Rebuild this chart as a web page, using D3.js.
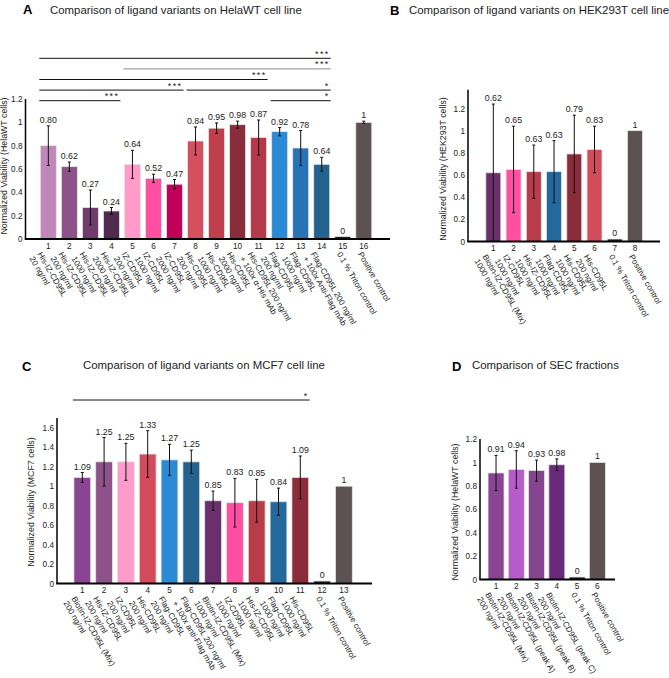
<!DOCTYPE html>
<html>
<head>
<meta charset="utf-8">
<script src="https://cdn.jsdelivr.net/npm/d3@7/dist/d3.min.js"></script>
<style>
  body { margin: 0; background: #fff; }
  svg { display: block; font-family: Arial, "Liberation Sans", sans-serif; }
</style>
</head>
<body>
<div id="chart"></div>
<script>
// ---- panel A: HelaWT ----
const namesA = [
  ['His-IZ-CD95L', '20 ng/ml'], ['His-IZ-CD95L', '200 ng/ml'], ['His-IZ-CD95L', '1000 ng/ml'],
  ['His-IZ-CD95L', '2000 ng/ml'], ['IZ-CD95L', '200 ng/ml'], ['IZ-CD95L', '1000 ng/ml'],
  ['IZ-CD95L', '2000 ng/ml'], ['His-CD95L', '200 ng/ml'], ['His-CD95L', '1000 ng/ml'],
  ['His-CD95L', '2000 ng/ml'], ['His-CD95L 200 ng/ml', '+ 100x α-His mAb'], ['Flag-CD95L', '200 ng/ml'],
  ['Flag-CD95L', '1000 ng/ml'], ['Flag-CD95L 200 ng/ml', '+ 100x Anti-Flag mAb'],
  ['0.1 % Triton control'], ['Positive control'],
];
const valuesA = [0.80, 0.62, 0.27, 0.24, 0.64, 0.52, 0.47, 0.84, 0.95, 0.98, 0.87, 0.92, 0.78, 0.64, 0, 1];
const errorsA = [0.17, 0.04, 0.15, 0.03, 0.12, 0.035, 0.04, 0.12, 0.045, 0.03, 0.15, 0.035, 0.15, 0.06, 0, 0.01];
const colorsA = ['#c088b8', '#8d5289', '#6e3b6c', '#4e2a4e', '#ff9bcb', '#ff4fa0', '#c1005a', '#d54f5f',
  '#bf3f4f', '#8b2c3b', '#b23a4a', '#2a8ad4', '#2873b4', '#23618f', '#222', '#5c5253'];
// significance brackets: bar numbers (1-based), tier 0 = top
const sigA = [
  {from: 1, to: 14, label: '***', tier: 0},
  {from: 5, to: 14, label: '***', tier: 1, grey: true},
  {from: 1, to: 11, label: '***', tier: 2},
  {from: 1, to: 7, label: '***', tier: 3},
  {from: 8, to: 14, label: '*', tier: 3},
  {from: 1, to: 4, label: '***', tier: 4},
  {from: 12, to: 14, label: '*', tier: 4},
];

// ---- panel B: HEK293T ----
const namesB = [
  ['Biotin-IZ-CD95L (Mix)', '1000 ng/ml'], ['IZ-CD95L', '1000 ng/ml'], ['His-IZ-CD95L', '1000 ng/ml'],
  ['Flag-CD95L', '1000 ng/ml'], ['His-CD95L', '1000 ng/ml'], ['His-CD95L', '200 ng/ml'],
  ['0.1 % Triton control'], ['Positive control'],
];
const valuesB = [0.62, 0.65, 0.63, 0.63, 0.79, 0.83, 0, 1];
const errorsB = [0.62, 0.39, 0.24, 0.28, 0.35, 0.21, 0, 0];
const colorsB = ['#6b2f6d', '#ff4fa0', '#b83c4a', '#24699c', '#8b2c3b', '#d24c5c', '#222', '#5c5253'];

// ---- panel C: MCF7 ----
const namesC = [
  ['Biotin-IZ-CD95L (Mix)', '200 ng/ml'], ['His-IZ-CD95L', '200 ng/ml'], ['IZ-CD95L', '200 ng/ml'],
  ['His-CD95L', '200 ng/ml'], ['Flag-CD95L', '200 ng/ml'], ['Flag-CD95L 200 ng/ml', '+ 100x anti-Flag mAb'],
  ['Biotin-IZ-CD95L (Mix)', '1000 ng/ml'], ['IZ-CD95L', '1000 ng/ml'], ['His-IZ-CD95L', '1000 ng/ml'],
  ['Flag-CD95L', '1000 ng/ml'], ['His-CD95L', '1000 ng/ml'], ['0.1 % Triton control'], ['Positive control'],
];
const valuesC = [1.09, 1.25, 1.25, 1.33, 1.27, 1.25, 0.85, 0.83, 0.85, 0.84, 1.09, 0, 1];
const errorsC = [0.05, 0.25, 0.19, 0.24, 0.16, 0.12, 0.1, 0.25, 0.22, 0.14, 0.22, 0, 0];
const colorsC = ['#8a4494', '#8d5289', '#ff9bcb', '#d24c5c', '#2a8ad4', '#23618f', '#6b2f6d',
  '#ff4fa0', '#b83c4a', '#24699c', '#8b2c3b', '#222', '#5c5253'];
const sigC = [{from: 1, to: 11, label: '*', tier: 0}];

// ---- panel D: SEC fractions ----
const namesD = [
  ['Biotin-IZ-CD95L (Mix)', '200 ng/ml'], ['Biotin-IZ-CD95L (peak A)', '200 ng/ml'],
  ['Biotin-IZ-CD95L (peak B)', '200 ng/ml'], ['Biotin-IZ-CD95L (peak C)', '200 ng/ml'],
  ['0.1 % Triton control'], ['Positive control'],
];
const valuesD = [0.91, 0.94, 0.93, 0.98, 0, 1];
const errorsD = [0.15, 0.16, 0.09, 0.05, 0, 0];
const colorsD = ['#8a4494', '#b65cc8', '#84448e', '#6a2a7a', '#222', '#5c5253'];

const ticksStd = [0, 0.2, 0.4, 0.6, 0.8, 1, 1.2];
const ticksC = [0, 0.2, 0.4, 0.6, 0.8, 1, 1.2, 1.4, 1.6];

const svg = d3.select('#chart').append('svg')
  .attr('width', 669)
  .attr('height', 678);

function drawPanel(p) {
  const g = svg.append('g');
  const n = p.values.length;

  const x = d3.scaleBand()
    .domain(d3.range(n))
    .range(p.xRange)
    .paddingInner(p.pad)
    .paddingOuter(p.pad / 2);

  const y = d3.scaleLinear()
    .domain([0, 1.2])
    .range(p.yRange);

  // panel letter + title
  g.append('text')
    .attr('x', p.letterPos[0]).attr('y', p.letterPos[1])
    .style('font-size', '13px').style('font-weight', 'bold')
    .text(p.letter);
  g.append('text')
    .attr('x', p.titlePos[0]).attr('y', p.titlePos[1])
    .style('font-size', '11.4px').attr('fill', '#222')
    .text(p.title);

  // bars
  g.selectAll('.bar')
    .data(p.values)
    .enter().append('rect')
      .attr('class', 'bar')
      .attr('x', (d, i) => x(i))
      .attr('width', x.bandwidth())
      .attr('y', d => Math.min(y(d), y(0) - 2.5))
      .attr('height', d => Math.max(y(0) - y(d), 2.5))
      .attr('fill', (d, i) => p.colors[i])
      .attr('stroke', '#e4e4e4')
      .attr('stroke-width', 0.8);

  // error bars
  const eb = g.selectAll('.err')
    .data(p.values.map((v, i) => ({v, e: p.errors[i], i})).filter(d => d.e > 0))
    .enter().append('g')
      .attr('class', 'err')
      .attr('stroke', '#111')
      .attr('stroke-width', 1);
  const cx = d => x(d.i) + x.bandwidth() / 2;
  eb.append('line')
    .attr('x1', cx).attr('x2', cx)
    .attr('y1', d => y(d.v + d.e)).attr('y2', d => y(Math.max(d.v - d.e, 0)));
  eb.append('line')
    .attr('x1', d => cx(d) - 1.5).attr('x2', d => cx(d) + 1.5)
    .attr('y1', d => y(d.v + d.e)).attr('y2', d => y(d.v + d.e));
  eb.append('line')
    .attr('x1', d => cx(d) - 1.5).attr('x2', d => cx(d) + 1.5)
    .attr('y1', d => y(Math.max(d.v - d.e, 0))).attr('y2', d => y(Math.max(d.v - d.e, 0)));

  // value labels
  g.selectAll('.val')
    .data(p.values)
    .enter().append('text')
      .attr('class', 'val')
      .attr('x', (d, i) => x(i) + x.bandwidth() / 2)
      .attr('y', (d, i) => Math.min(y(d + p.errors[i]), y(0) - 2.5) - 3)
      .attr('text-anchor', 'middle')
      .style('font-size', '8.8px').attr('fill', '#222')
      .text(d => (d === 0 || d === 1) ? String(d) : d.toFixed(2));

  // y axis
  const yAxis = d3.axisLeft(y)
    .tickValues(p.ticks)
    .tickSize(0)
    .tickPadding(3)
    .tickFormat(d3.format('~g'));
  const ya = g.append('g')
    .attr('transform', `translate(${p.axisX},0)`)
    .call(yAxis);
  ya.select('.domain').remove();
  ya.selectAll('text').style('font-size', '8.2px').attr('fill', '#222').style('font-family', 'inherit');
  g.append('line')
    .attr('x1', p.axisX).attr('x2', p.axisX)
    .attr('y1', y(0)).attr('y2', y(p.axisTop))
    .attr('stroke', '#000').attr('stroke-width', 1.5);

  g.append('text')
    .attr('transform', `translate(${p.yLabelX},${p.yLabelY}) rotate(-90)`)
    .attr('text-anchor', 'middle')
    .style('font-size', '8.8px').attr('fill', '#222')
    .text(p.yLabel);

  // x axis
  g.append('line')
    .attr('x1', p.axisX - 0.75).attr('x2', p.axisEnd)
    .attr('y1', y(0)).attr('y2', y(0))
    .attr('stroke', '#000').attr('stroke-width', 1.8);

  g.selectAll('.num')
    .data(p.values)
    .enter().append('text')
      .attr('class', 'num')
      .attr('x', (d, i) => x(i) + x.bandwidth() / 2)
      .attr('y', y(0) + 9.5)
      .attr('text-anchor', 'middle')
      .style('font-size', '8.2px').attr('fill', '#222')
      .text((d, i) => i + 1);

  const lbl = g.selectAll('.xl')
    .data(p.names)
    .enter().append('text')
      .attr('class', 'xl')
      .attr('transform', (d, i) =>
        `translate(${x(i) + x.bandwidth() / 2 - (d.length > 1 ? 6 : 1)},${y(0) + 12}) rotate(60)`)
      .style('font-size', '8.2px').attr('fill', '#222');
  lbl.selectAll('tspan')
    .data(d => d)
    .enter().append('tspan')
      .attr('x', 0)
      .attr('dy', (d, i) => i === 0 ? '0.72em' : '1.12em')
      .text(d => d);

  // significance brackets
  if (p.sig) {
    const sg = g.selectAll('.sig')
      .data(p.sig)
      .enter().append('g')
        .attr('class', 'sig');
    sg.append('line')
      .attr('x1', d => x(d.from - 1) - 1)
      .attr('x2', d => x(d.to - 1) + x.bandwidth() + 1)
      .attr('y1', d => p.sigTop + d.tier * p.sigStep)
      .attr('y2', d => p.sigTop + d.tier * p.sigStep)
      .attr('stroke', d => d.grey ? '#8a8a8a' : '#111')
      .attr('stroke-width', 1);
    sg.append('text')
      .attr('x', d => x(d.to - 1) + x.bandwidth())
      .attr('y', d => p.sigTop + d.tier * p.sigStep - 1.5)
      .attr('text-anchor', 'end')
      .style('font-size', '9px').style('letter-spacing', '1.4px').attr('fill', '#222')
      .text(d => d.label);
  }
}

drawPanel({
  letter: 'A', letterPos: [23, 14], title: 'Comparison of ligand variants on HelaWT cell line', titlePos: [50, 13.5],
  values: valuesA, errors: errorsA, colors: colorsA, names: namesA, sig: sigA,
  xRange: [37.8, 374.3], pad: 0.24, yRange: [239, 99], axisTop: 1.2, ticks: ticksStd,
  axisX: 25.5, axisEnd: 390, yLabel: 'Normalized Viability (HelaWT cells)', yLabelX: 7, yLabelY: 166,
  sigTop: 58.3, sigStep: 10.6,
});

drawPanel({
  letter: 'B', letterPos: [390, 14.5], title: 'Comparison of ligand variants on HEK293T cell line', titlePos: [409, 13.5],
  values: valuesB, errors: errorsB, colors: colorsB, names: namesB,
  xRange: [483.2, 645.1], pad: 0.26, yRange: [241.5, 108.5], axisTop: 1.37, ticks: ticksStd,
  axisX: 468, axisEnd: 660, yLabel: 'Normalized Viability (HEK293T cells)', yLabelX: 446, yLabelY: 169,
});

drawPanel({
  letter: 'C', letterPos: [22, 370.5], title: 'Comparison of ligand variants on MCF7 cell line', titlePos: [83, 368.5],
  values: valuesC, errors: errorsC, colors: colorsC, names: namesC, sig: sigC,
  xRange: [71.4, 354.8], pad: 0.23, yRange: [583.5, 466.7], axisTop: 1.7, ticks: ticksC,
  axisX: 57, axisEnd: 372, yLabel: 'Normalized Viability (MCF7 cells)', yLabelX: 34, yLabelY: 502,
  sigTop: 400, sigStep: 10,
});

drawPanel({
  letter: 'D', letterPos: [452, 370.5], title: 'Comparison of SEC fractions', titlePos: [472, 368.5],
  values: valuesD, errors: errorsD, colors: colorsD, names: namesD,
  xRange: [485.9, 607.5], pad: 0.21, yRange: [579.5, 439], axisTop: 1.2, ticks: ticksStd,
  axisX: 480, axisEnd: 615, yLabel: 'Normalized Viability (HelaWT cells)', yLabelX: 457.5, yLabelY: 512,
});
</script>
</body>
</html>
